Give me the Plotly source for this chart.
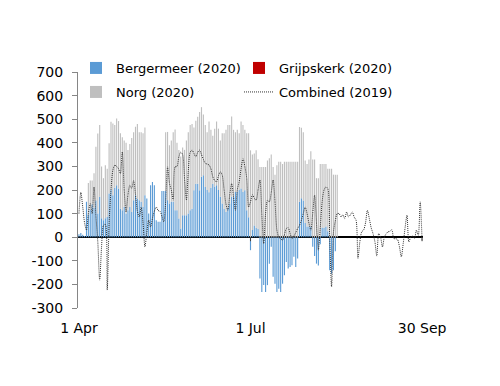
import pandas as pd
import plotly.graph_objects as go

# Daily dates 1 Apr - 30 Sep
dates = pd.date_range("2020-04-01", "2020-09-30", freq="D")
n_bar_days = 138
bar_dates = dates[:n_bar_days]

# Bergermeer (2020), daily net injection (d0..d137)
bergermeer = [
    12, 18, 10, 5, 150, 95, 115, 140, 125, 155,
    100, 171, 80, 72, 80, 86, 185, 202, 178, 210,
    220, 206, 121, 114, 128, 100, 114, 128, 107, 157,
    178, 164, 157, 150, 128, 178, 164, 100, 220, 234,
    220, 72, 65, 65, 196, 196, 196, 157, 143, 150,
    150, 114, 114, 79, 37, 93, 93, 93, 100, 114,
    121, 199, 227, 227, 199, 256, 263, 213, 200, 190,
    210, 227, 215, 220, 200, 171, 143, 121, 107, 125,
    143, 171, 171, 192, 192, 200, 206, 192, 199, 114,
    85, -55, 30, 50, 40, 35, -175, -232, -203, -232,
    -203, -112, -40, -168, -197, -232, -218, -232, -197, -161,
    -105, -133, -126, -119, -83, -126, -90, 150, 165, 155,
    60, 45, 45, 45, -40, -80, -112, -120, -30, 40,
    40, 45, 25, -140, -155, -140, -60, 0,
]

# Grijpskerk (2020) - nothing visible
grijpskerk = [
    0, 0, 0, 0, 0, 0, 0, 0, 0, 0, 0, 0, 0, 0, 0, 0, 0, 0, 0, 0,
    0, 0, 0, 0, 0, 0, 0, 0, 0, 0, 0, 0, 0, 0, 0, 0, 0, 0, 0, 0,
    0, 0, 0, 0, 0, 0, 0, 0, 0, 0, 0, 0, 0, 0, 0, 0, 0, 0, 0, 0,
    0, 0, 0, 0, 0, 0, 0, 0, 0, 0, 0, 0, 0, 0, 0, 0, 0, 0, 0, 0,
    0, 0, 0, 0, 0, 0, 0, 0, 0, 0, 0, 0, 0, 0, 0, 0, 0, 0, 0, 0,
    0, 0, 0, 0, 0, 0, 0, 0, 0, 0, 0, 0, 0, 0, 0, 0, 0, 0, 0, 0,
    0, 0, 0, 0, 0, 0, 0, 0, 0, 0, 0, 0, 0, 0, 0, 0, 0, 0,
]

# Norg (2020), stacked on Bergermeer
norg = [
    0, 0, 0, 0, 0, 135, 125, 100, 146, 228,
    339, 304, 220, 178, 225, 204, 213, 287, 304, 265,
    283, 286, 319, 310, 282, 300, 256, 267, 313, 288,
    290, 316, 288, 295, 312, 287, 0, 0, 0, 0,
    0, 0, 0, 0, 0, 0, 249, 289, 247, 260,
    295, 342, 286, 291, 305, 287, 277, 317, 345, 361,
    359, 266, 266, 283, 331, 295, 257, 262, 245, 300,
    245, 203, 245, 270, 260, 239, 297, 319, 348, 350,
    332, 340, 284, 253, 263, 240, 284, 283, 256, 326,
    355, 368, 320, 305, 328, 295, 297, 297, 297, 297,
    325, 335, 350, 297, 265, 305, 320, 320, 310, 320,
    320, 320, 320, 320, 320, 320, 320, 317, 299, 290,
    265, 265, 284, 319, 329, 329, 250, 250, 310, 270,
    270, 265, 265, 290, 290, 265, 265, 265,
]

# Combined (2019), daily, full period
combined_2019 = [
    100, 190, 130, 60, 30, 100, 143, 100, 212, 90,
    -20, -182, -40, 50, 55, -224, 60, 200, 284, 305,
    300, 290, 270, 361, 200, 107, 180, 220, 207, 240,
    180, 110, 86, 127, 60, -41, 20, 72, 43, 80,
    110, 128, 113, 110, 90, 65, 150, 298, 230, 200,
    157, 298, 300, 340, 361, 350, 250, 157, 280, 360,
    369, 355, 340, 360, 369, 350, 330, 313, 310, 306,
    290, 256, 240, 235, 260, 277, 263, 200, 140, 114,
    180, 227, 170, 114, 200, 235, 290, 333, 300, 250,
    128, 150, 180, 165, 157, 200, 242, 100, -27, 100,
    157, 150, 190, 242, 150, 30, 0, -6, -13, 10,
    37, 40, 16, -6, 5, 20, 37, 50, 72, 100,
    128, 100, 60, 30, 100, 178, 60, -55, 40, 150,
    200, 213, 206, 0, -210, 20, 70, 100, 100, 86,
    95, 79, 107, 86, 95, 107, 85, 72, -90, -20,
    23, 30, 60, 114, 80, 40, 15, -20, -80, 15,
    0, -41, 0, 15, 23, 25, 32, -6, -6, -10,
    -40, -83, -27, 40, 93, -20, 0, 5, -6, 30,
    8, 150, -13,
]

y_tick_vals = [-300, -200, -100, 0, 100, 200, 300, 400, 500, 600, 700]
y_tick_text = ["-300", "-200", "-100", "0", "100", "200", "300", "400", "500", "600", "700"]
x_tick_vals = ["2020-04-01", "2020-07-01", "2020-09-30"]
x_tick_text = ["1 Apr", "1 Jul", "30 Sep"]

FONT = "DejaVu Sans"
W, H = 500, 386

fig = go.Figure()
fig.add_trace(go.Bar(x=bar_dates, y=bergermeer, name="Bergermeer (2020)",
                     marker=dict(color="#5B9BD5", line=dict(width=0)), legend="legend"))
fig.add_trace(go.Bar(x=bar_dates, y=grijpskerk, name="Grijpskerk (2020)",
                     marker=dict(color="#C00000", line=dict(width=0)), legend="legend2"))
fig.add_trace(go.Bar(x=bar_dates, y=norg, name="Norg (2020)",
                     marker=dict(color="#BFBFBF", line=dict(width=0)), legend="legend3"))
fig.add_trace(go.Scatter(x=dates, y=combined_2019, name="Combined (2019)", mode="lines",
                         line=dict(color="#333333", width=1, dash="1px,1px", shape="spline", smoothing=0.8),
                         legend="legend4"))

# small category-axis tick marks hanging below the zero line
for tv in x_tick_vals[1:]:
    fig.add_shape(type="line", xref="x", yref="y", x0=tv, x1=tv,
                  ysizemode="pixel", yanchor=0, y0=0, y1=-4,
                  line=dict(color="#404040", width=1))

left_px, top_px, plot_w, plot_h = 78, 72, 345, 236

def cx(p):
    return p / W

def cy(p):
    return 1 - p / H

leg_common = dict(font=dict(family=FONT, size=13, color="black"), bgcolor="rgba(0,0,0,0)",
                  borderwidth=0, xanchor="left", yanchor="middle", orientation="h",
                  xref="container", yref="container")

fig.update_layout(
    width=W, height=H,
    margin=dict(l=left_px, r=W - left_px - plot_w, t=top_px, b=H - top_px - plot_h, autoexpand=False),
    paper_bgcolor="white", plot_bgcolor="white",
    barmode="relative", bargap=0.4,
    font=dict(family=FONT, size=14, color="black"),
    showlegend=True,
    legend=dict(x=cx(76), y=cy(68), **leg_common),
    legend2=dict(x=cx(239), y=cy(68), **leg_common),
    legend3=dict(x=cx(76), y=cy(92), **leg_common),
    legend4=dict(x=cx(239), y=cy(92), **leg_common),
    xaxis=dict(
        type="date",
        range=["2020-03-31 12:00", "2020-09-30 12:00"],
        tickvals=x_tick_vals, ticktext=x_tick_text,
        showgrid=False, showline=False, zeroline=False, ticks="",
        ticklabelstandoff=10,
        tickfont=dict(family=FONT, size=14, color="black"),
    ),
    yaxis=dict(
        range=[-300, 700],
        tickvals=y_tick_vals, ticktext=y_tick_text,
        showgrid=False, showline=True, linecolor="#868686", linewidth=1,
        ticks="outside", ticklen=5, tickcolor="#868686",
        zeroline=True, zerolinecolor="black", zerolinewidth=1.5,
        ticklabelstandoff=6,
        tickfont=dict(family=FONT, size=14, color="black"),
        layer="above traces",
    ),
)

fig.write_html("out.html", config={"staticPlot": True},
               post_script="document.body.style.margin='0';")
